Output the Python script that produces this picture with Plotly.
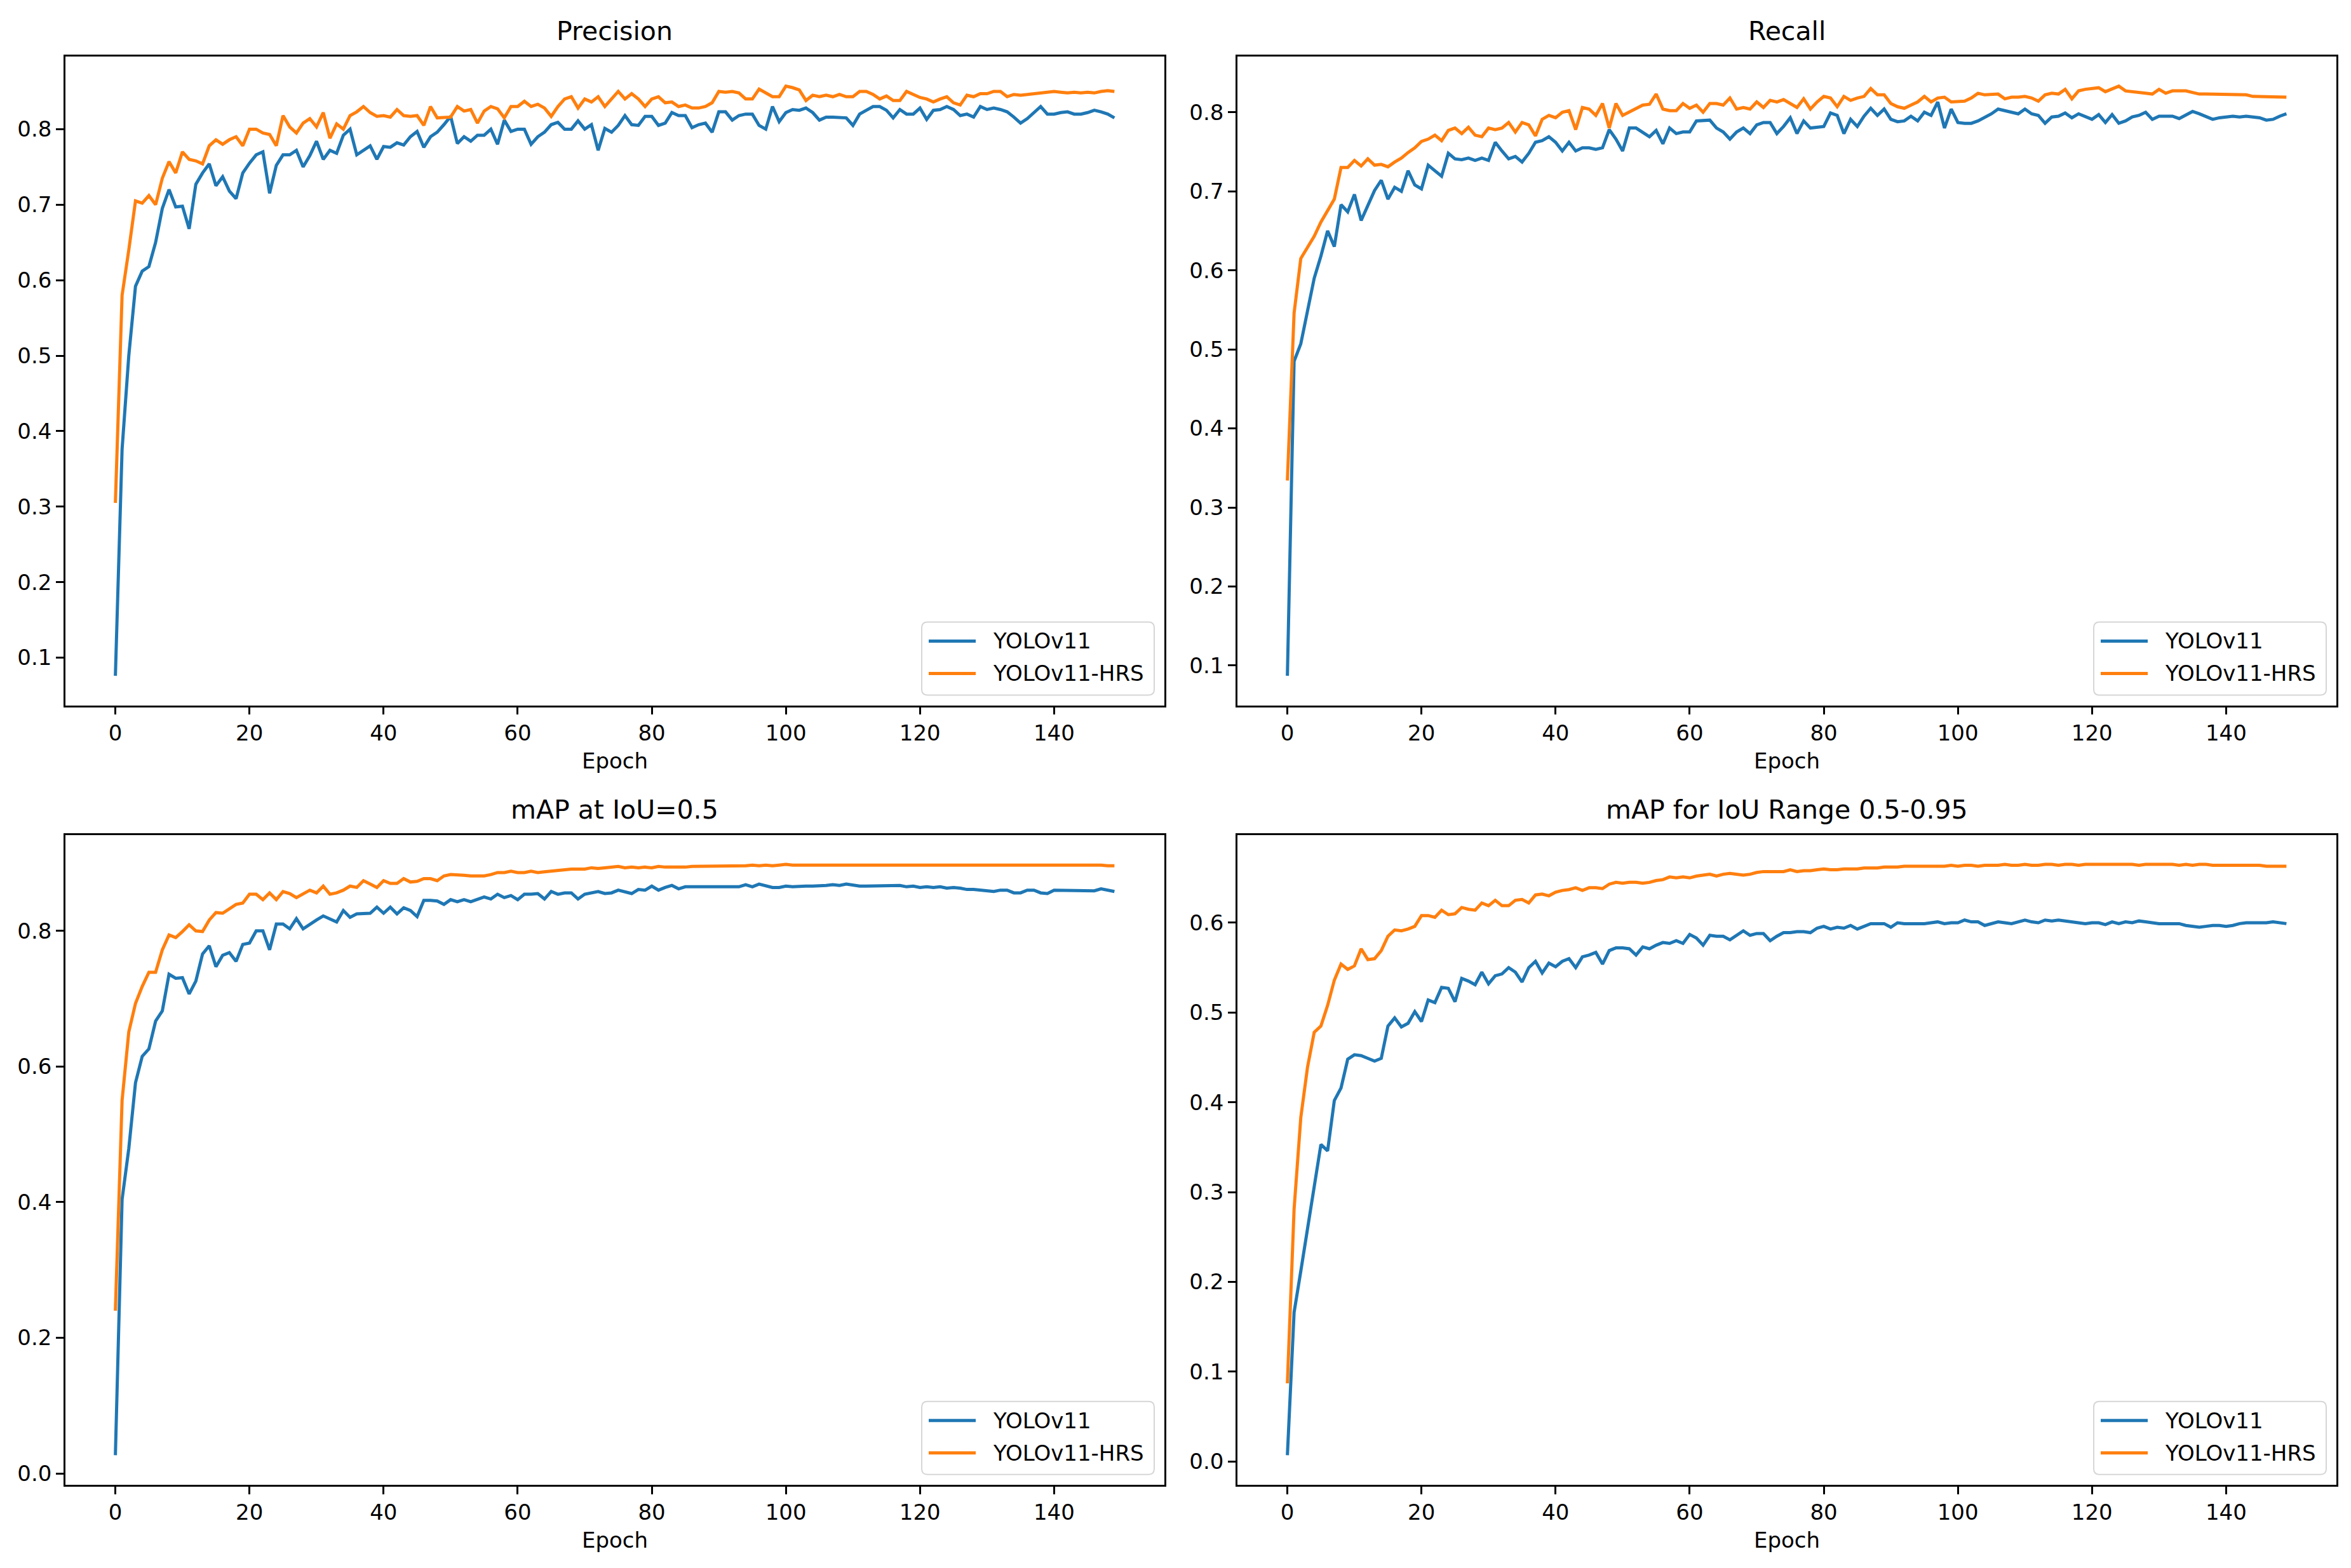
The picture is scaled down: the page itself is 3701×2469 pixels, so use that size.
# YOLOv11 vs YOLOv11-HRS 训练曲线 (2x2)
import plotly.graph_objs as go

epochs = list(range(150))

prec_base = [
    0.076, 0.376, 0.50, 0.592, 0.612, 0.618, 0.65, 0.695, 0.72, 0.697,
    0.698, 0.668, 0.727, 0.742, 0.754, 0.725, 0.737, 0.718, 0.708, 0.742,
    0.755, 0.766, 0.77, 0.715, 0.752, 0.766, 0.766, 0.772, 0.75, 0.765,
    0.784, 0.76, 0.772, 0.768, 0.792, 0.80, 0.766, 0.772, 0.778, 0.76,
    0.777, 0.776, 0.782, 0.779, 0.79, 0.797, 0.776, 0.79, 0.796, 0.806,
    0.817, 0.781, 0.79, 0.784, 0.792, 0.792, 0.80, 0.78, 0.812, 0.797,
    0.80, 0.80, 0.78, 0.79, 0.796, 0.806, 0.809, 0.80, 0.80, 0.811,
    0.80, 0.806, 0.772, 0.801, 0.796, 0.805, 0.818, 0.806, 0.805, 0.817,
    0.817, 0.805, 0.808, 0.822, 0.818, 0.818, 0.802, 0.806, 0.808, 0.796,
    0.823, 0.823, 0.812, 0.818, 0.82, 0.82, 0.805, 0.80, 0.83, 0.81,
    0.822, 0.826, 0.825, 0.828, 0.822, 0.812, 0.816, 0.816, 0.815, 0.815,
    0.805, 0.82, 0.825, 0.83, 0.83, 0.825, 0.815, 0.826, 0.82, 0.82,
    0.828, 0.813, 0.825, 0.826, 0.83, 0.826, 0.818, 0.82, 0.816, 0.83,
    0.826, 0.828, 0.826, 0.823, 0.816, 0.808, 0.814, 0.822, 0.83, 0.82,
    0.82, 0.822, 0.823, 0.82, 0.82, 0.822, 0.825, 0.823, 0.82, 0.815,
]
prec_hrs = [
    0.305, 0.58, 0.64, 0.705, 0.702, 0.712, 0.70, 0.735, 0.757, 0.742,
    0.77, 0.76, 0.758, 0.754, 0.778, 0.786, 0.78, 0.786, 0.79, 0.778,
    0.80, 0.80, 0.795, 0.793, 0.778, 0.818, 0.803, 0.795, 0.808, 0.814,
    0.803, 0.822, 0.788, 0.807, 0.80, 0.818, 0.823, 0.83, 0.822, 0.817,
    0.818, 0.816, 0.826, 0.818, 0.817, 0.818, 0.805, 0.83, 0.815, 0.816,
    0.816, 0.83, 0.824, 0.826, 0.808, 0.824, 0.83, 0.827, 0.815, 0.83,
    0.83, 0.837, 0.83, 0.833, 0.828, 0.817, 0.83, 0.84, 0.843, 0.828,
    0.84, 0.836, 0.843, 0.83, 0.84, 0.85, 0.84, 0.847, 0.84, 0.83,
    0.84, 0.843, 0.835, 0.836, 0.83, 0.832, 0.828, 0.828, 0.83, 0.835,
    0.85, 0.849, 0.85, 0.848, 0.84, 0.84, 0.853, 0.848, 0.843, 0.843,
    0.857, 0.855, 0.852, 0.838, 0.845, 0.843, 0.845, 0.843, 0.846, 0.843,
    0.843, 0.85, 0.85, 0.846, 0.84, 0.844, 0.838, 0.838, 0.85, 0.846,
    0.842, 0.84, 0.836, 0.84, 0.843, 0.835, 0.832, 0.845, 0.843, 0.847,
    0.847, 0.85, 0.85, 0.843, 0.846, 0.845, 0.846, 0.846, 0.848, 0.848,
    0.85, 0.849, 0.848, 0.849, 0.848, 0.849, 0.848, 0.85, 0.851, 0.85,
]

recall_base = [
    0.087, 0.485, 0.507, 0.55, 0.59, 0.618, 0.65, 0.63, 0.683, 0.674,
    0.696, 0.663, 0.683, 0.701, 0.714, 0.69, 0.705, 0.70, 0.726, 0.708,
    0.703, 0.733, 0.726, 0.719, 0.748, 0.741, 0.74, 0.742, 0.739, 0.742,
    0.739, 0.762, 0.751, 0.741, 0.744, 0.737, 0.748, 0.762, 0.764, 0.769,
    0.762, 0.751, 0.762, 0.751, 0.755, 0.755, 0.753, 0.755, 0.778, 0.766,
    0.751, 0.78, 0.78, 0.775, 0.769, 0.777, 0.76, 0.78, 0.773, 0.775,
    0.775, 0.789, 0.79, 0.79, 0.78, 0.775, 0.766, 0.775, 0.78, 0.773,
    0.784, 0.787, 0.787, 0.773, 0.782, 0.793, 0.773, 0.789, 0.78, 0.781,
    0.782, 0.799, 0.796, 0.773, 0.791, 0.782, 0.795, 0.805, 0.796, 0.804,
    0.791, 0.788, 0.789, 0.795, 0.789, 0.80, 0.796, 0.813, 0.78, 0.804,
    0.787, 0.786, 0.786, 0.789, 0.793, 0.798, 0.804, 0.802, 0.80, 0.798,
    0.804, 0.798, 0.796, 0.786, 0.794, 0.795, 0.799, 0.793, 0.798, 0.795,
    0.791, 0.797, 0.787, 0.797, 0.786, 0.789, 0.794, 0.796, 0.80, 0.791,
    0.795, 0.795, 0.795, 0.792, 0.796, 0.801, 0.798, 0.795, 0.791, 0.793,
    0.794, 0.795, 0.794, 0.795, 0.794, 0.793, 0.79, 0.791, 0.795, 0.798,
]
recall_hrs = [
    0.334, 0.546, 0.615, 0.629, 0.643, 0.661, 0.676, 0.69, 0.73, 0.73,
    0.739, 0.732, 0.741, 0.733, 0.734, 0.731, 0.737, 0.742, 0.749, 0.755,
    0.763, 0.766, 0.771, 0.764, 0.777, 0.78, 0.773, 0.781, 0.771, 0.769,
    0.78, 0.778, 0.78, 0.787, 0.775, 0.787, 0.784, 0.77, 0.791, 0.796,
    0.793, 0.80, 0.802, 0.778, 0.806, 0.804, 0.796, 0.811, 0.78, 0.811,
    0.796, 0.80, 0.804, 0.809, 0.81, 0.823, 0.804, 0.802, 0.802, 0.811,
    0.805, 0.809, 0.80, 0.811, 0.811, 0.809, 0.818, 0.804, 0.806, 0.804,
    0.813, 0.806, 0.815, 0.813, 0.816, 0.811, 0.806, 0.817, 0.804, 0.813,
    0.82, 0.818, 0.807, 0.82, 0.815, 0.818, 0.82, 0.83, 0.822, 0.822,
    0.811, 0.807, 0.805, 0.809, 0.813, 0.82, 0.813, 0.818, 0.819, 0.813,
    0.814, 0.814, 0.818, 0.824, 0.822, 0.822, 0.823, 0.817, 0.819, 0.819,
    0.82, 0.818, 0.814, 0.822, 0.824, 0.823, 0.829, 0.817, 0.827, 0.829,
    0.83, 0.831, 0.826, 0.83, 0.833, 0.827, 0.826, 0.826, 0.824, 0.823,
    0.829, 0.824, 0.827, 0.827, 0.827, 0.825, 0.823, 0.823, 0.823, 0.823,
    0.823, 0.822, 0.822, 0.822, 0.82, 0.82, 0.82, 0.82, 0.819, 0.819,
]

map50_base = [
    0.027, 0.404, 0.479, 0.576, 0.615, 0.626, 0.667, 0.682, 0.736, 0.73,
    0.731, 0.707, 0.726, 0.766, 0.778, 0.747, 0.764, 0.768, 0.755, 0.78,
    0.782, 0.80, 0.80, 0.772, 0.81, 0.81, 0.803, 0.818, 0.803, 0.81,
    0.816, 0.822, 0.818, 0.813, 0.83, 0.82, 0.825, 0.825, 0.826, 0.835,
    0.826, 0.835, 0.825, 0.834, 0.83, 0.821, 0.845, 0.845, 0.844, 0.839,
    0.846, 0.843, 0.846, 0.843, 0.846, 0.85, 0.847, 0.854, 0.849, 0.852,
    0.846, 0.854, 0.854, 0.855, 0.847, 0.858, 0.854, 0.856, 0.856, 0.847,
    0.854, 0.856, 0.858, 0.855, 0.856, 0.86, 0.858, 0.855, 0.861, 0.86,
    0.866, 0.86, 0.864, 0.867, 0.862, 0.865, 0.865, 0.865, 0.866, 0.866,
    0.866, 0.866, 0.866, 0.865, 0.868, 0.865, 0.869, 0.866, 0.864, 0.864,
    0.866, 0.865, 0.866, 0.866, 0.866, 0.866, 0.867, 0.868, 0.867, 0.869,
    0.867, 0.866, 0.866, 0.866, 0.866, 0.866, 0.866, 0.867, 0.865, 0.866,
    0.864, 0.865, 0.864, 0.865, 0.863, 0.864, 0.863, 0.861, 0.861, 0.86,
    0.86, 0.858, 0.86, 0.86, 0.856, 0.856, 0.86, 0.86, 0.856, 0.855,
    0.86, 0.86, 0.86, 0.859, 0.859, 0.86, 0.859, 0.862, 0.86, 0.858,
]
map50_hrs = [
    0.24, 0.55, 0.651, 0.693, 0.718, 0.739, 0.739, 0.772, 0.794, 0.79,
    0.799, 0.809, 0.80, 0.799, 0.816, 0.827, 0.826, 0.833, 0.839, 0.841,
    0.854, 0.854, 0.846, 0.856, 0.846, 0.858, 0.855, 0.849, 0.854, 0.86,
    0.856, 0.866, 0.854, 0.856, 0.86, 0.866, 0.864, 0.874, 0.869, 0.864,
    0.874, 0.87, 0.87, 0.877, 0.872, 0.873, 0.877, 0.877, 0.874, 0.881,
    0.883, 0.883, 0.882, 0.881, 0.881, 0.881, 0.883, 0.886, 0.886, 0.888,
    0.886, 0.886, 0.888, 0.886, 0.887, 0.888, 0.889, 0.891, 0.891, 0.891,
    0.891, 0.893, 0.892, 0.893, 0.894, 0.895, 0.893, 0.894, 0.893, 0.894,
    0.893, 0.895, 0.894, 0.894, 0.893, 0.894, 0.895, 0.895, 0.895, 0.896,
    0.896, 0.896, 0.896, 0.896, 0.896, 0.897, 0.896, 0.897, 0.896, 0.897,
    0.898, 0.897, 0.897, 0.897, 0.897, 0.897, 0.898, 0.898, 0.897, 0.898,
    0.898, 0.897, 0.897, 0.898, 0.897, 0.897, 0.898, 0.898, 0.897, 0.898,
    0.898, 0.898, 0.897, 0.898, 0.898, 0.898, 0.898, 0.898, 0.897, 0.897,
    0.898, 0.897, 0.897, 0.897, 0.897, 0.897, 0.897, 0.897, 0.897, 0.897,
    0.897, 0.897, 0.897, 0.897, 0.897, 0.897, 0.897, 0.897, 0.896, 0.896,
]

map5095_base = [
    0.007, 0.166, 0.212, 0.258, 0.305, 0.353, 0.346, 0.402, 0.416, 0.448,
    0.453, 0.452, 0.449, 0.446, 0.449, 0.485, 0.494, 0.484, 0.488, 0.501,
    0.49, 0.514, 0.511, 0.528, 0.527, 0.512, 0.538, 0.535, 0.531, 0.545,
    0.532, 0.541, 0.543, 0.55, 0.545, 0.534, 0.55, 0.557, 0.544, 0.555,
    0.551, 0.557, 0.56, 0.55, 0.562, 0.564, 0.567, 0.554, 0.569, 0.572,
    0.572, 0.571, 0.564, 0.573, 0.571, 0.575, 0.578, 0.577, 0.58, 0.577,
    0.587, 0.583, 0.575, 0.586, 0.585, 0.585, 0.581, 0.586, 0.591, 0.586,
    0.588, 0.588, 0.58, 0.585, 0.589, 0.589, 0.59, 0.59, 0.589, 0.594,
    0.596, 0.593, 0.595, 0.594, 0.597, 0.593, 0.596, 0.599, 0.599, 0.599,
    0.595, 0.60, 0.599, 0.599, 0.599, 0.599, 0.60, 0.601, 0.599, 0.60,
    0.60, 0.603, 0.601, 0.601, 0.597, 0.599, 0.601, 0.60, 0.599, 0.601,
    0.603, 0.601, 0.60, 0.603, 0.602, 0.603, 0.602, 0.601, 0.60, 0.599,
    0.60, 0.60, 0.598, 0.601, 0.599, 0.601, 0.60, 0.602, 0.601, 0.60,
    0.599, 0.599, 0.599, 0.599, 0.597, 0.596, 0.595, 0.596, 0.597, 0.597,
    0.596, 0.597, 0.599, 0.60, 0.60, 0.60, 0.60, 0.601, 0.60, 0.599,
]
map5095_hrs = [
    0.087, 0.281, 0.383, 0.439, 0.478, 0.485, 0.508, 0.536, 0.554, 0.548,
    0.552, 0.571, 0.559, 0.56, 0.569, 0.585, 0.592, 0.591, 0.593, 0.596,
    0.608, 0.608, 0.606, 0.614, 0.609, 0.61, 0.617, 0.615, 0.614, 0.622,
    0.619, 0.625, 0.619, 0.619, 0.625, 0.626, 0.622, 0.631, 0.632, 0.63,
    0.634, 0.636, 0.637, 0.639, 0.636, 0.639, 0.639, 0.638, 0.643, 0.645,
    0.644, 0.645, 0.645, 0.644, 0.645, 0.647, 0.648, 0.651, 0.65, 0.651,
    0.65, 0.652, 0.653, 0.654, 0.652, 0.654, 0.655, 0.654, 0.653, 0.654,
    0.656, 0.657, 0.657, 0.657, 0.657, 0.659, 0.657, 0.658, 0.658, 0.659,
    0.66, 0.659, 0.659, 0.66, 0.66, 0.66, 0.661, 0.661, 0.661, 0.662,
    0.662, 0.662, 0.663, 0.663, 0.663, 0.663, 0.663, 0.663, 0.663, 0.664,
    0.663, 0.664, 0.664, 0.663, 0.664, 0.664, 0.664, 0.665, 0.664, 0.664,
    0.665, 0.664, 0.664, 0.665, 0.665, 0.664, 0.665, 0.665, 0.664, 0.665,
    0.665, 0.665, 0.665, 0.665, 0.665, 0.665, 0.665, 0.664, 0.665, 0.665,
    0.665, 0.665, 0.665, 0.664, 0.665, 0.664, 0.665, 0.665, 0.664, 0.664,
    0.664, 0.664, 0.664, 0.664, 0.664, 0.664, 0.663, 0.663, 0.663, 0.663,
]

titles = ['Precision', 'Recall', 'mAP at IoU=0.5', 'mAP for IoU Range 0.5-0.95']
series = [
    (prec_base, prec_hrs),
    (recall_base, recall_hrs),
    (map50_base, map50_hrs),
    (map5095_base, map5095_hrs),
]
y_dticks = [0.1, 0.1, 0.2, 0.1]
names = ['YOLOv11', 'YOLOv11-HRS']
colors = ['#1f77b4', '#ff7f0e']

FONT = 'DejaVu Sans'
# 页面偏移修正 (body 边距约 8px)
OFF_X = 8
OFF_Y, SY = 5.8, 0.9989
FW, FH = 3701 - 16, 2469 - 16


def fx(px):
    return (px - OFF_X) / FW


def fy(px):
    return 1 - ((px - OFF_Y) / SY) / FH


# 子图位置 (原图像素)
x_doms = [(103, 1833), (1948, 3678)]
y_doms = [(87, 1108), (1312, 2335)]

traces = []
shapes = []
annotations = []
layout = dict(
    width=FW, height=FH,
    margin=dict(l=0, r=0, t=0, b=0),
    paper_bgcolor='white', plot_bgcolor='white',
    font=dict(family=FONT, size=34, color='black'),
    showlegend=False,
)


def legend_box(right, bottom):
    # 仿 matplotlib 圆角图例框
    w, h, r = 366, 115, 9
    l, t = right - w, bottom - h
    rx, ry = r / FW, r / FH
    L, R, T, B = fx(l), fx(right), fy(t), fy(bottom)
    path = (f'M{L + rx},{T} L{R - rx},{T} Q{R},{T} {R},{T - ry} '
            f'L{R},{B + ry} Q{R},{B} {R - rx},{B} L{L + rx},{B} '
            f'Q{L},{B} {L},{B + ry} L{L},{T - ry} Q{L},{T} {L + rx},{T} Z')
    shapes.append(dict(type='path', path=path, xref='paper', yref='paper',
                       fillcolor='rgba(255,255,255,0.8)',
                       line=dict(color='#d6d6d6', width=2), layer='above'))
    for j in range(2):
        yc = t + 30 + 51 * j
        shapes.append(dict(type='line', xref='paper', yref='paper',
                           x0=fx(l + 11), x1=fx(l + 85), y0=fy(yc), y1=fy(yc),
                           line=dict(color=colors[j], width=5), layer='above'))
        annotations.append(dict(text=names[j], x=fx(l + 110), y=fy(yc),
                                xref='paper', yref='paper', xanchor='left',
                                yanchor='middle', showarrow=False,
                                font=dict(family=FONT, size=34, color='black')))


for k in range(4):
    row, col = divmod(k, 2)
    x0, x1 = x_doms[col]
    top, bot = y_doms[row]
    ax = '' if k == 0 else str(k + 1)

    for j in range(2):
        traces.append(go.Scatter(
            x=epochs, y=series[k][j], mode='lines', name=names[j],
            line=dict(color=colors[j], width=5),
            xaxis='x' + ax, yaxis='y' + ax,
        ))

    # matplotlib 默认 5% 边距
    lo = min(min(series[k][0]), min(series[k][1]))
    hi = max(max(series[k][0]), max(series[k][1]))
    pad = (hi - lo) * 0.05

    axis_common = dict(
        showline=True, linecolor='black', linewidth=2.5, mirror=True,
        ticks='outside', ticklen=12, tickwidth=2.5, tickcolor='black',
        showgrid=False, zeroline=False,
        tickfont=dict(family=FONT, size=34, color='black'),
    )
    layout['xaxis' + ax] = dict(
        axis_common, domain=[fx(x0), fx(x1)], range=[-7.45, 156.45],
        tick0=0, dtick=20, anchor='y' + ax,
    )
    layout['yaxis' + ax] = dict(
        axis_common, domain=[fy(bot), fy(top)], range=[lo - pad, hi + pad],
        tick0=0, dtick=y_dticks[k], tickformat='.1f', anchor='x' + ax,
    )

    legend_box(x1 - 16, bot - 16)

    annotations.append(dict(
        text=titles[k], x=fx((x0 + x1) / 2), y=fy(top - 40),
        xref='paper', yref='paper', xanchor='center', yanchor='middle',
        showarrow=False, font=dict(family=FONT, size=41, color='black'),
    ))
    annotations.append(dict(
        text='Epoch', x=fx((x0 + x1) / 2), y=fy(bot + 87),
        xref='paper', yref='paper', xanchor='center', yanchor='middle',
        showarrow=False, font=dict(family=FONT, size=34, color='black'),
    ))

layout['shapes'] = shapes
layout['annotations'] = annotations

fig = go.Figure(data=traces, layout=layout)
fig.write_html("out.html")
